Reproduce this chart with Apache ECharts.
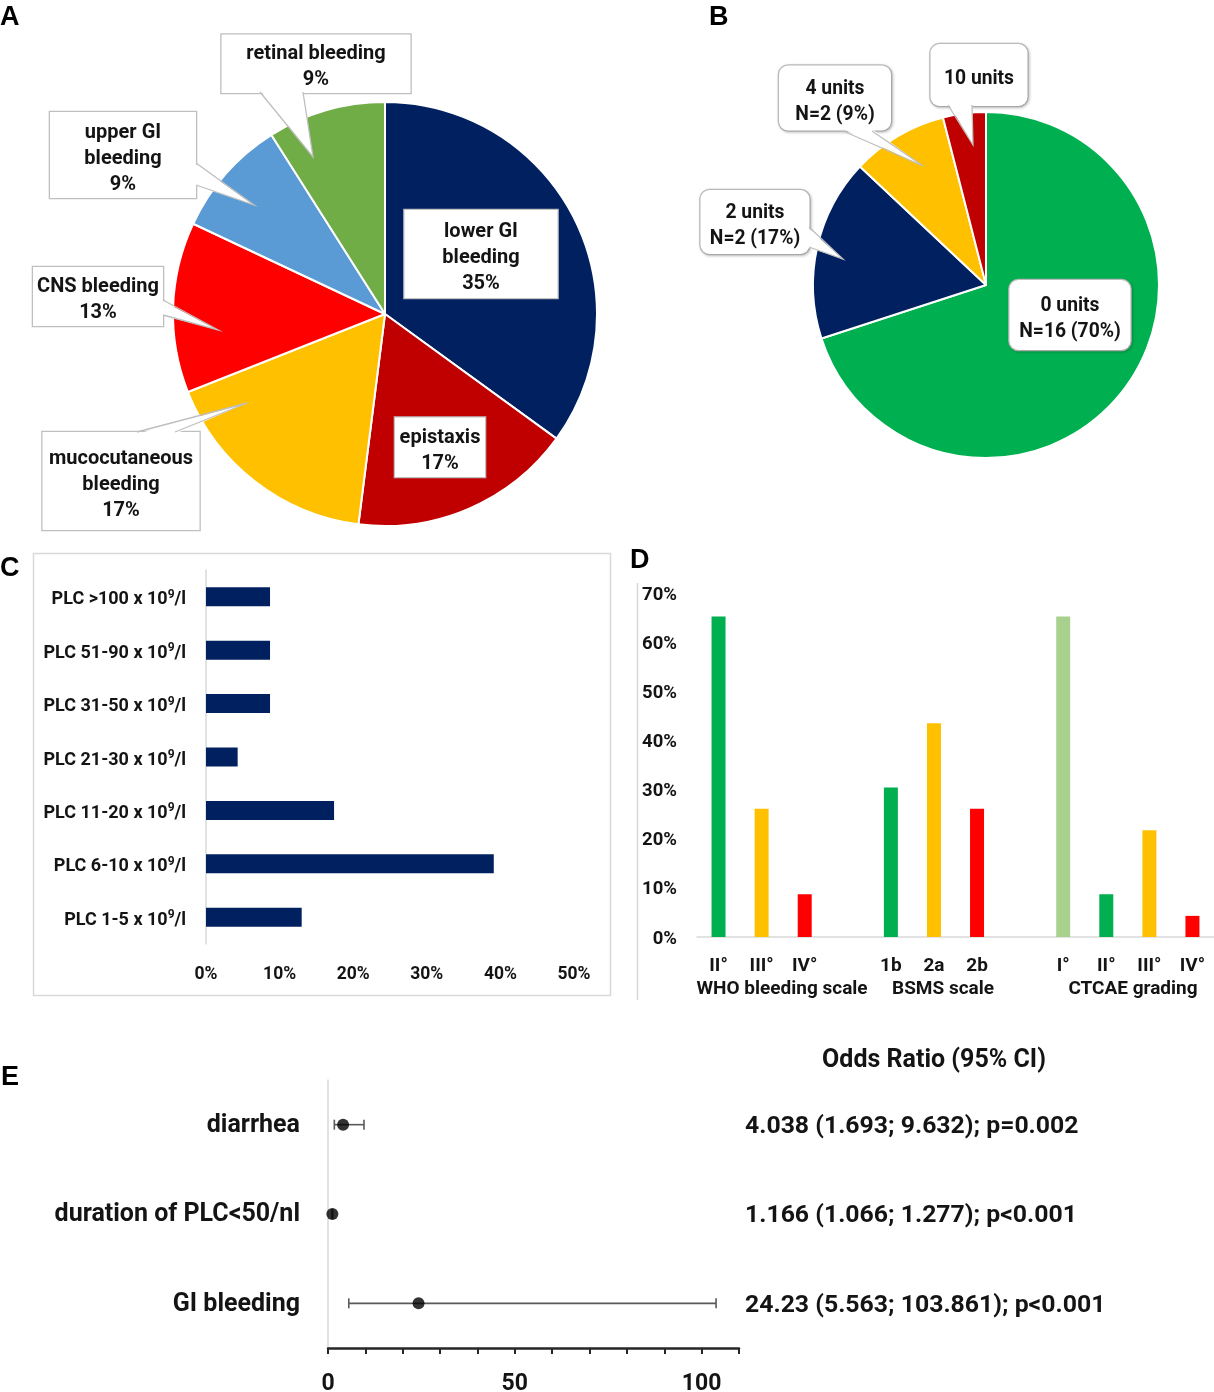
<!DOCTYPE html>
<html><head><meta charset="utf-8">
<script src="https://cdn.jsdelivr.net/npm/echarts@6/dist/echarts.min.js"></script>
<style>html,body{margin:0;padding:0;background:#fff}#c{width:1214px;height:1392px}</style>
</head><body><div id="c"></div>
<script>
// ---------- Panel A: bleeding sites ----------
const aCats = ['lower GI\nbleeding','epistaxis','mucocutaneous\nbleeding','CNS bleeding','upper GI\nbleeding','retinal bleeding'];
const aPct = [35,17,17,13,9,9];
// ---------- Panel B: transfusion units ----------
const bCats = ['0 units','2 units','4 units','10 units'];
const bPct = [70,17,9,4];
const bN = [16,2,2,null];
// ---------- Panel C: platelet count ----------
const cCats = ['PLC 1-5 x 10^9/l','PLC 6-10 x 10^9/l','PLC 11-20 x 10^9/l','PLC 21-30 x 10^9/l','PLC 31-50 x 10^9/l','PLC 51-90 x 10^9/l','PLC >100 x 10^9/l'];
const cPct = [13.0,39.1,17.4,4.3,8.7,8.7,8.7];
// ---------- Panel D: bleeding grading ----------
const dCats = ['II°','III°','IV°','','1b','2a','2b','','I°','II°','III°','IV°'];
const dPct = [65.2,26.1,8.7,null,30.4,43.5,26.1,null,65.2,8.7,21.7,4.3];
const dGroups = ['WHO bleeding scale','BSMS scale','CTCAE grading'];
// ---------- Panel E: odds ratios ----------
const eFactors = ['diarrhea','duration of PLC<50/nl','GI bleeding'];
const eOR = [4.038,1.166,24.23];
const eLo = [1.693,1.066,5.563];
const eHi = [9.632,1.277,103.861];
const eP = ['p=0.002','p<0.001','p<0.001'];
const eORtxt = ['4.038','1.166','24.23'];
const eLoTxt = ['1.693','1.066','5.563'];
const eHiTxt = ['9.632','1.277','103.861'];
const eTickLabels = [0,50,100];

// ---------- styles / layout (not data) ----------
const FONT = 'Roboto';
const TXT = '#141414';
const aColors = ['#002060','#C00000','#FFC000','#FF0000','#5B9BD5','#70AD47'];
const aBoxes = [[481,254,153,88],[440,447,90,59],[121,481,157,98],[98,296,130,58],[123,155,146,86],[316,63,189,57]];
const bColors = ['#00B050','#002060','#FFC000','#C00000'];
const bBoxes = [[1070,315,121,70],[755,222,109,64],[835,98,112,65],[979,75,97,62]];
const dColors = ['#00B050','#FFC000','#FF0000',null,'#00B050','#FFC000','#FF0000',null,'#A9D18E','#00B050','#FFC000','#FF0000'];
// callout wedges: [base1, tip, base2, inward direction]
const wedges = [
  [[260,92],[313,157],[303,92],[0,-2]],
  [[196,163],[254,205],[196,185],[-2,0]],
  [[163,300],[218,330],[163,315],[-2,0]],
  [[137,432],[247,403],[175,432],[0,2]],
  [[948,105],[973,145],[972,105],[0,-2]],
  [[843,131],[923,166],[872,131],[0,-2]],
  [[809,227],[843,259],[809,247],[-2,0]]
];
const LH = 26;
const SHIFT = 4;

function lineCount(s){ return s.split('\n').length; }

const chart = echarts.init(document.getElementById('c'));

function boxLabel(b, txt){
  const pv = Math.max(0,(b[3] - lineCount(txt)*LH)/2);
  return {width:b[2], padding:[pv+SHIFT,0,Math.max(0,pv-SHIFT),0]};
}
const aData = aCats.map((n,i)=>({name:n, value:aPct[i], itemStyle:{color:aColors[i]},
  label:boxLabel(aBoxes[i], n + '\n' + aPct[i] + '%')}));
const bData = bCats.map((n,i)=>({name:n, value:bPct[i], itemStyle:{color:bColors[i]},
  label:boxLabel(bBoxes[i], n + (bN[i]!=null ? '\nx' : ''))}));

const baseLabel = {
  show:true, position:'outside', overflow:'none', align:'center',
  fontFamily:FONT, fontWeight:'bold', fontSize:20, lineHeight:LH, color:TXT,
  backgroundColor:'#fff', borderColor:'#BFBFBF', borderWidth:1.3
};

const wedgeGraphics = [];
wedges.forEach(w=>{
  const d = w[3];
  wedgeGraphics.push({type:'polygon', z:200, silent:true,
    shape:{points:[[w[0][0]+d[0],w[0][1]+d[1]], w[1], [w[2][0]+d[0],w[2][1]+d[1]]]},
    style:{fill:'#fff', stroke:null}});
  wedgeGraphics.push({type:'polyline', z:201, silent:true,
    shape:{points:[w[0], w[1], w[2]]},
    style:{fill:null, stroke:'#BFBFBF', lineWidth:1.3}});
});

const option = {
  backgroundColor:'#fff',
  animation:false,
  textStyle:{fontFamily:FONT, fontWeight:'bold'},
  grid:[
    {left:206, right:1214-574, top:570, bottom:1392-944, outerBoundsMode:'none'},
    {left:697, right:0, top:593, bottom:1392-937, outerBoundsMode:'none'},
    {left:328, right:1214-739, top:1080, bottom:1392-1348, outerBoundsMode:'none'}
  ],
  xAxis:[
    {type:'value', gridIndex:0, min:0, max:50, interval:10,
      axisLine:{show:false}, axisTick:{show:false}, splitLine:{show:false},
      axisLabel:{formatter:'{value}%', margin:22, fontFamily:FONT, fontWeight:'bold', fontSize:17.5, color:TXT}},
    {type:'category', gridIndex:1, data:dCats,
      axisLine:{lineStyle:{color:'#D9D9D9', width:1.5}}, axisTick:{show:false},
      axisLabel:{interval:0, margin:20, fontFamily:FONT, fontWeight:'bold', fontSize:19, color:TXT}},
    {type:'value', gridIndex:2, min:0, max:110, interval:10,
      axisLine:{show:true, lineStyle:{color:'#262626', width:2.5}},
      axisTick:{show:true, inside:false, length:6, lineStyle:{color:'#262626', width:2}},
      splitLine:{show:false},
      axisLabel:{margin:25, fontFamily:FONT, fontWeight:'bold', fontSize:23, color:TXT,
        formatter:v=> eTickLabels.indexOf(v)>=0 ? String(v) : ''}}
  ],
  yAxis:[
    {type:'category', gridIndex:0, data:cCats,
      axisLine:{lineStyle:{color:'#D9D9D9', width:1.5}}, axisTick:{show:false},
      axisLabel:{margin:20, color:TXT, padding:[6,0,0,0],
        formatter:v=>{ const p=v.split('^9'); return '{a|'+p[0]+'}{s|9}{a|'+p[1]+'}'; },
        rich:{a:{fontFamily:FONT, fontWeight:'bold', fontSize:18, lineHeight:22, color:TXT},
              s:{fontFamily:FONT, fontWeight:'bold', fontSize:12, lineHeight:15, verticalAlign:'top', color:TXT}}}},
    {type:'value', gridIndex:1, min:0, max:70, interval:10,
      axisLine:{show:false}, axisTick:{show:false}, splitLine:{show:false},
      axisLabel:{margin:20, padding:[4,0,0,0], color:TXT,
        formatter:v=>'{a|'+v+'%}',
        rich:{a:{fontFamily:FONT, fontWeight:'bold', fontSize:18.5, lineHeight:22, color:TXT}}}},
    {type:'category', gridIndex:2, data:eFactors, inverse:true,
      axisLine:{lineStyle:{color:'#D9D9D9', width:1.5}}, axisTick:{show:false},
      axisLabel:{margin:28, padding:[2,0,0,0], color:TXT,
        formatter:v=>'{a|'+v+'}',
        rich:{a:{fontFamily:FONT, fontWeight:'bold', fontSize:25, lineHeight:30, color:TXT}}}},
    {type:'category', gridIndex:2, data:eFactors, inverse:true, position:'right',
      axisLine:{show:false}, axisTick:{show:false},
      axisLabel:{margin:6, padding:[4,0,0,0], align:'left', color:TXT,
        formatter:(v,i)=> '{a|'+eORtxt[i]+' ('+eLoTxt[i]+'; '+eHiTxt[i]+'); '+eP[i]+'}',
        rich:{a:{fontFamily:FONT, fontWeight:'bold', fontSize:24.8, lineHeight:30, color:TXT}}}}
  ],
  series:[
    {type:'pie', center:[385,314], radius:212, startAngle:90, clockwise:true,
      avoidLabelOverlap:false,
      itemStyle:{borderColor:'#fff', borderWidth:2},
      label:Object.assign({}, baseLabel, {formatter:p=>p.name+'\n'+p.value+'%'}),
      labelLine:{show:false},
      labelLayout:p=>{const b=aBoxes[p.dataIndex]; return {x:b[0], y:b[1]-b[3]/2, align:'center', verticalAlign:'top'};},
      data:aData},
    {type:'pie', center:[986,285], radius:173, startAngle:90, clockwise:true,
      avoidLabelOverlap:false,
      itemStyle:{borderColor:'#fff', borderWidth:2},
      label:Object.assign({}, baseLabel, {fontSize:19.3, borderRadius:9, shadowColor:'rgba(0,0,0,0.18)', shadowBlur:3, shadowOffsetX:1, shadowOffsetY:1,
        formatter:p=>{const i=p.dataIndex; return p.name + (bN[i]!=null ? '\nN='+bN[i]+' ('+p.value+'%)' : '');}}),
      labelLine:{show:false},
      labelLayout:p=>{const b=bBoxes[p.dataIndex]; return {x:b[0], y:b[1]-b[3]/2, align:'center', verticalAlign:'top'};},
      data:bData},
    {type:'bar', xAxisIndex:0, yAxisIndex:0, data:cPct, barWidth:19,
      itemStyle:{color:'#002060'}},
    {type:'bar', xAxisIndex:1, yAxisIndex:1, barWidth:14,
      data:dPct.map((v,i)=> v==null ? '-' : {value:v, itemStyle:{color:dColors[i]}})},
    {type:'custom', xAxisIndex:2, yAxisIndex:2,
      encode:{x:[1,2], y:0},
      data:eFactors.map((f,i)=>[i, eLo[i], eHi[i]]),
      renderItem:(params, api)=>{
        const y = api.value(0);
        const p1 = api.coord([api.value(1), y]);
        const p2 = api.coord([api.value(2), y]);
        const h = 5;
        const st = {stroke:'#595959', lineWidth:1.6};
        return {type:'group', children:[
          {type:'line', shape:{x1:p1[0], y1:p1[1], x2:p2[0], y2:p2[1]}, style:st},
          {type:'line', shape:{x1:p1[0], y1:p1[1]-h, x2:p1[0], y2:p1[1]+h}, style:st},
          {type:'line', shape:{x1:p2[0], y1:p2[1]-h, x2:p2[0], y2:p2[1]+h}, style:st}
        ]};
      }},
    {type:'scatter', xAxisIndex:2, yAxisIndex:2, symbol:'circle', symbolSize:12,
      itemStyle:{color:'#000'}, z:5,
      data:eOR.map((v,i)=>[v,i])}
  ],
  graphic:[
    {type:'text', left:0, top:4, style:{text:'A', font:'bold 27px "Liberation Sans", Arial', fill:'#000'}},
    {type:'text', left:709, top:4, style:{text:'B', font:'bold 27px "Liberation Sans", Arial', fill:'#000'}},
    {type:'text', left:0, top:555, style:{text:'C', font:'bold 27px "Liberation Sans", Arial', fill:'#000'}},
    {type:'text', left:630, top:547, style:{text:'D', font:'bold 27px "Liberation Sans", Arial', fill:'#000'}},
    {type:'text', left:1, top:1064, style:{text:'E', font:'bold 27px "Liberation Sans", Arial', fill:'#000'}},
    {type:'rect', shape:{x:33.5, y:553.5, width:577, height:442}, style:{fill:'none', stroke:'#D9D9D9', lineWidth:1.5}, z:-1},
    {type:'line', shape:{x1:637.5, y1:583, x2:637.5, y2:1000}, style:{stroke:'#D9D9D9', lineWidth:1.5}},
    {type:'text', x:782, y:989, style:{text:dGroups[0], font:'bold 19px Roboto', fill:TXT, textAlign:'center', textVerticalAlign:'middle'}},
    {type:'text', x:943, y:989, style:{text:dGroups[1], font:'bold 19px Roboto', fill:TXT, textAlign:'center', textVerticalAlign:'middle'}},
    {type:'text', x:1133, y:989, style:{text:dGroups[2], font:'bold 19px Roboto', fill:TXT, textAlign:'center', textVerticalAlign:'middle'}},
    {type:'text', x:934, y:1061, style:{text:'Odds Ratio (95% CI)', font:'bold 25px Roboto', fill:TXT, textAlign:'center', textVerticalAlign:'middle'}}
  ].concat(wedgeGraphics)
};
chart.setOption(option);
</script>
</body></html>
